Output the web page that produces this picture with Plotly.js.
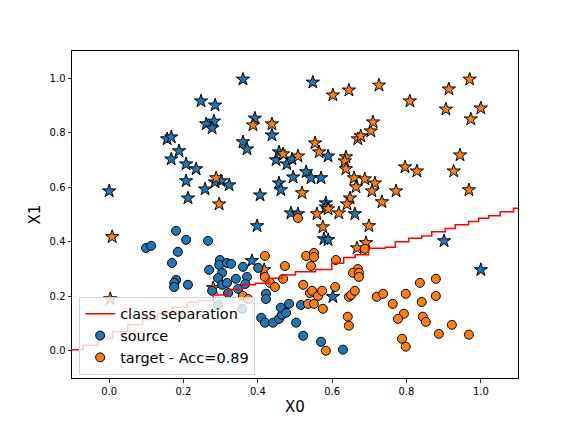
<!DOCTYPE html>
<html>
<head>
<meta charset="utf-8">
<script src="https://cdn.plot.ly/plotly-3.0.1.min.js"></script>
<style>
  html, body { margin: 0; padding: 0; background: #ffffff; }
  #chart { width: 576px; height: 432px; }
</style>
</head>
<body>
<div id="chart"></div>
<script>
// Source samples (class drawn as circles)
const sourceX = [0.180, 0.207, 0.266, 0.099, 0.113, 0.185, 0.169, 0.269, 0.298, 0.296, 0.317, 0.328, 0.360, 0.304, 0.293, 0.341, 0.371, 0.180, 0.401, 0.304, 0.317, 0.320, 0.347, 0.366, 0.175, 0.175, 0.212, 0.277, 0.293, 0.422, 0.422, 0.358, 0.409, 0.419, 0.441, 0.457, 0.465, 0.462, 0.476, 0.484, 0.503, 0.516, 0.522, 0.570, 0.629];
const sourceY = [0.440, 0.407, 0.403, 0.377, 0.385, 0.363, 0.322, 0.297, 0.333, 0.315, 0.322, 0.319, 0.308, 0.286, 0.267, 0.264, 0.271, 0.260, 0.304, 0.242, 0.249, 0.212, 0.227, 0.245, 0.249, 0.234, 0.242, 0.220, 0.168, 0.209, 0.190, 0.154, 0.121, 0.103, 0.103, 0.117, 0.132, 0.158, 0.139, 0.172, 0.103, 0.168, 0.055, 0.033, 0.004];

// Target samples (circles)
const targetX = [0.508, 0.419, 0.530, 0.551, 0.551, 0.610, 0.688, 0.473, 0.543, 0.669, 0.419, 0.468, 0.433, 0.446, 0.360, 0.374, 0.522, 0.540, 0.546, 0.562, 0.573, 0.608, 0.535, 0.551, 0.575, 0.645, 0.651, 0.661, 0.656, 0.672, 0.672, 0.642, 0.645, 0.583, 0.836, 0.879, 0.720, 0.737, 0.798, 0.879, 0.763, 0.841, 0.793, 0.777, 0.844, 0.852, 0.922, 0.887, 0.968, 0.788, 0.798];
const targetY = [0.487, 0.348, 0.348, 0.359, 0.344, 0.333, 0.374, 0.311, 0.311, 0.300, 0.271, 0.264, 0.249, 0.234, 0.201, 0.190, 0.242, 0.212, 0.220, 0.201, 0.220, 0.234, 0.172, 0.172, 0.154, 0.198, 0.205, 0.220, 0.286, 0.286, 0.271, 0.125, 0.092, 0.000, 0.249, 0.264, 0.198, 0.209, 0.209, 0.201, 0.172, 0.179, 0.136, 0.117, 0.125, 0.106, 0.095, 0.062, 0.059, 0.044, 0.015];

// Star samples, blue class
const starBlueX = [0.360, 0.548, 0.247, 0.285, 0.261, 0.282, 0.277, 0.156, 0.167, 0.188, 0.167, 0.207, 0.234, 0.207, 0.258, 0.212, 0.000, 0.285, 0.301, 0.323, 0.392, 0.360, 0.371, 0.438, 0.449, 0.457, 0.478, 0.492, 0.495, 0.530, 0.543, 0.570, 0.457, 0.462, 0.406, 0.583, 0.583, 0.489, 0.508, 0.661, 0.398, 0.578, 0.589, 0.384, 0.589, 0.901, 1.000, 0.602];
const starBlueY = [0.996, 0.985, 0.916, 0.901, 0.832, 0.842, 0.817, 0.777, 0.784, 0.733, 0.703, 0.685, 0.667, 0.623, 0.593, 0.560, 0.586, 0.619, 0.623, 0.608, 0.853, 0.766, 0.740, 0.791, 0.700, 0.729, 0.685, 0.703, 0.637, 0.656, 0.634, 0.634, 0.615, 0.590, 0.571, 0.542, 0.527, 0.505, 0.502, 0.502, 0.458, 0.410, 0.407, 0.330, 0.714, 0.403, 0.297, 0.198];

// Star samples, orange class
const starOrangeX = [0.602, 0.645, 0.387, 0.438, 0.554, 0.565, 0.468, 0.508, 0.637, 0.669, 0.677, 0.704, 0.710, 0.726, 0.809, 0.914, 0.970, 0.906, 1.000, 0.973, 0.944, 0.288, 0.296, 0.008, 0.634, 0.637, 0.659, 0.688, 0.664, 0.519, 0.648, 0.640, 0.589, 0.559, 0.618, 0.575, 0.699, 0.667, 0.691, 0.796, 0.828, 0.927, 0.715, 0.707, 0.772, 0.734, 0.968, 0.280, 0.003, 0.417];
const starOrangeY = [0.938, 0.956, 0.828, 0.832, 0.762, 0.729, 0.722, 0.714, 0.711, 0.777, 0.788, 0.806, 0.839, 0.974, 0.916, 0.960, 0.996, 0.886, 0.890, 0.850, 0.718, 0.634, 0.538, 0.418, 0.696, 0.667, 0.634, 0.630, 0.601, 0.579, 0.560, 0.538, 0.520, 0.502, 0.505, 0.454, 0.458, 0.377, 0.396, 0.674, 0.659, 0.659, 0.615, 0.586, 0.586, 0.546, 0.590, 0.231, 0.190, 0.297];

// Decision boundary between the two classes
const sepX = [-0.1, -0.07, -0.03, 0.01, 0.05, 0.09, 0.13, 0.17, 0.21, 0.24, 0.28, 0.32, 0.358, 0.393, 0.429, 0.465, 0.501, 0.555, 0.599, 0.631, 0.662, 0.698, 0.743, 0.770, 0.806, 0.841, 0.868, 0.904, 0.931, 0.967, 0.994, 1.021, 1.052, 1.088, 1.1];
const sepY = [0.004, 0.020, 0.045, 0.070, 0.095, 0.115, 0.138, 0.160, 0.178, 0.184, 0.205, 0.225, 0.242, 0.248, 0.266, 0.278, 0.290, 0.298, 0.321, 0.342, 0.352, 0.376, 0.380, 0.400, 0.413, 0.421, 0.437, 0.449, 0.462, 0.474, 0.486, 0.495, 0.510, 0.523, 0.523];

const accuracy = 0.89;
const tickVals = [0.0, 0.2, 0.4, 0.6, 0.8, 1.0];
const tickText = ['0.0', '0.2', '0.4', '0.6', '0.8', '1.0'];

const BLUE = '#1f77b4';
const ORANGE = '#ff7f0e';
const FONT = 'DejaVu Sans, sans-serif';

const edge = { color: '#000000', width: 1 };

const traces = [
  {
    x: starBlueX, y: starBlueY, type: 'scatter', mode: 'markers',
    marker: { symbol: 'star', size: 10, color: BLUE, line: edge },
    showlegend: false, hoverinfo: 'skip'
  },
  {
    x: starOrangeX, y: starOrangeY, type: 'scatter', mode: 'markers',
    marker: { symbol: 'star', size: 10, color: ORANGE, line: edge },
    showlegend: false, hoverinfo: 'skip'
  },
  {
    x: sourceX, y: sourceY, type: 'scatter', mode: 'markers', name: 'source',
    marker: { symbol: 'circle', size: 9, color: BLUE, line: edge },
    legendrank: 2
  },
  {
    x: targetX, y: targetY, type: 'scatter', mode: 'markers',
    name: 'target - Acc=' + accuracy.toFixed(2),
    marker: { symbol: 'circle', size: 9, color: ORANGE, line: edge },
    legendrank: 3
  },
  {
    x: sepX, y: sepY, type: 'scatter', mode: 'lines', name: 'class separation',
    line: { color: '#ff0000', width: 1.5, shape: 'hv' },
    legendrank: 1
  }
];

const axisCommon = {
  range: [-0.1, 1.1],
  tickvals: tickVals,
  ticktext: tickText,
  ticks: 'outside',
  ticklen: 3.5,
  tickwidth: 0.8,
  tickcolor: '#000000',
  tickfont: { family: FONT, size: 10, color: '#000000' },
  showline: true,
  mirror: true,
  linecolor: '#000000',
  linewidth: 1,
  showgrid: false,
  zeroline: false
};

const layout = {
  width: 576,
  height: 432,
  margin: { l: 72, r: 58, t: 51, b: 54 },
  paper_bgcolor: '#ffffff',
  plot_bgcolor: '#ffffff',
  font: { family: FONT, color: '#000000' },
  xaxis: Object.assign({}, axisCommon, {
    title: { text: 'X0', font: { family: FONT, size: 15, color: '#000000' }, standoff: 5 }
  }),
  yaxis: Object.assign({}, axisCommon, {
    title: { text: 'X1', font: { family: FONT, size: 15, color: '#000000' }, standoff: 5 }
  }),
  legend: {
    x: 0.016, y: 0.01, xanchor: 'left', yanchor: 'bottom',
    bgcolor: 'rgba(255,255,255,0.8)',
    bordercolor: '#d0d0d0',
    borderwidth: 1,
    font: { family: FONT, size: 14.5, color: '#000000' },
    tracegroupgap: 0,
    itemwidth: 30
  },
  showlegend: true
};

Plotly.newPlot('chart', traces, layout, { displayModeBar: false, staticPlot: true });
</script>
</body>
</html>
